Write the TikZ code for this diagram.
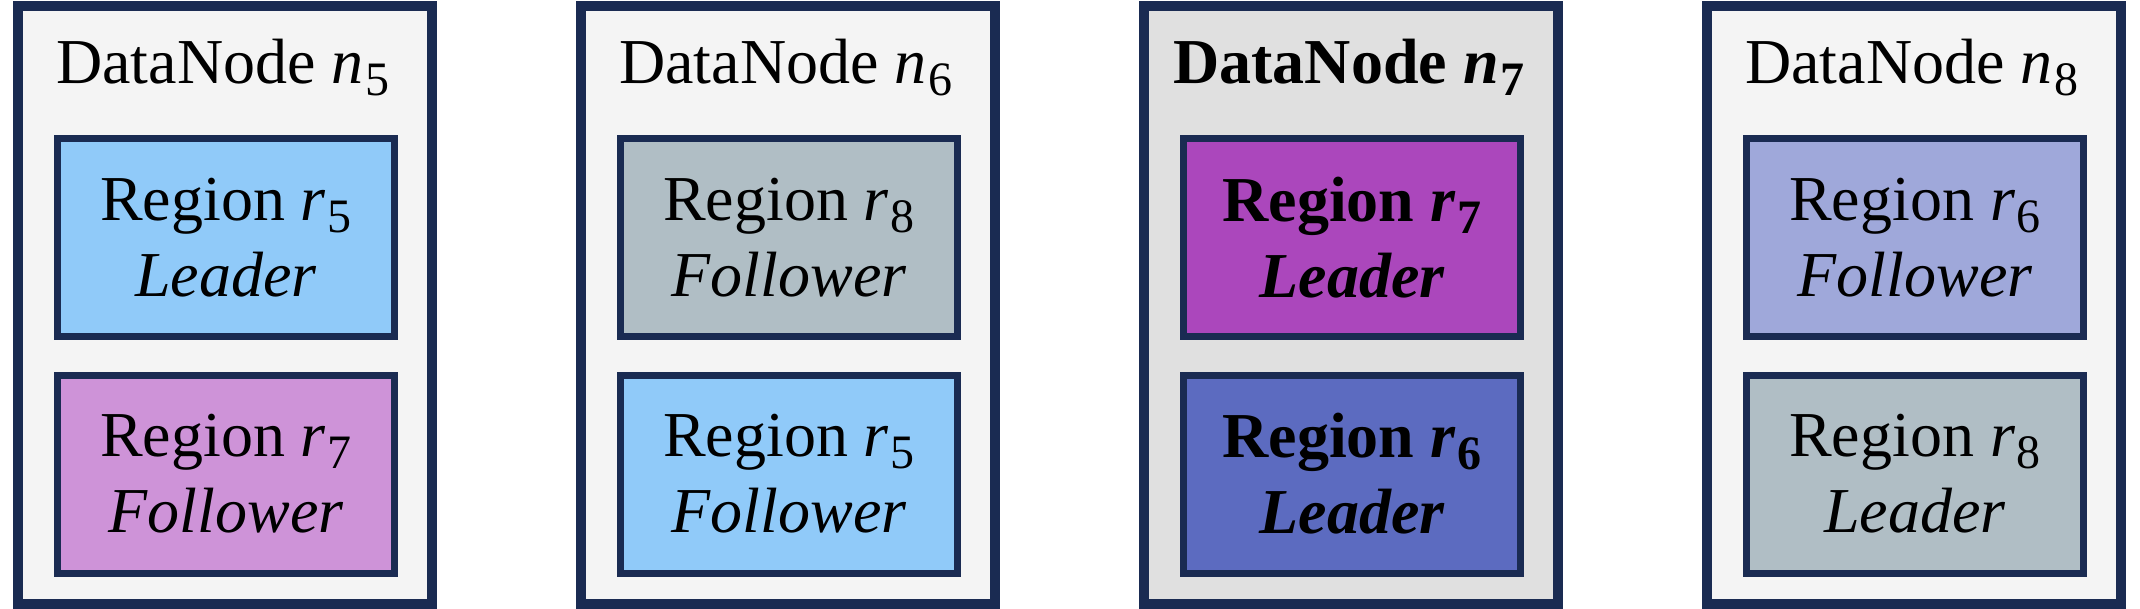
\documentclass[tikz,border=0pt]{standalone}
\usepackage{fontspec}
\setmainfont{Liberation Serif}
\definecolor{navy}{HTML}{1A2B52}
\definecolor{nodebg}{HTML}{F4F4F4}
\definecolor{nodebgsel}{HTML}{E0E0E0}
\definecolor{lblue}{HTML}{90CAF9}
\definecolor{lpurple}{HTML}{CE93D8}
\definecolor{lgrey}{HTML}{B0BEC5}
\definecolor{dpurple}{HTML}{AB47BC}
\definecolor{dindigo}{HTML}{5C6BC0}
\definecolor{lindigo}{HTML}{9FA8DA}
\newcommand\rs[1]{\kern2pt\raisebox{-12pt}{\fontsize{48}{48}\selectfont #1}}
\tikzset{
  dnbox/.style={draw=navy, line width=10pt, fill=nodebg, minimum width=414pt, minimum height=598pt, inner sep=0pt},
  dntitle/.style={anchor=base, inner sep=0pt, font=\fontsize{64}{76}\selectfont},
  regbox/.style={draw=navy, line width=7pt, minimum width=337pt, minimum height=198pt, inner sep=0pt, align=center, font=\fontsize{64}{76}\selectfont},
}
\begin{document}
\begin{tikzpicture}[x=1pt,y=-1pt]
\useasboundingbox (0,0) rectangle (2140,609);
% DataNode n5
\node[dnbox] (n5) at (225,305) {};
\node[dntitle] (t5) at (223,83.5) {DataNode {\itshape n}\rs{5}};
\node[regbox, fill=lblue] (n5a) at (226,237.5) {Region {\itshape r}\rs{5}\\{\itshape Leader}};
\node[regbox, fill=lpurple] (n5b) at (226,474) {Region {\itshape r}\rs{7}\\{\itshape Follower}};
% DataNode n6
\node[dnbox] (n6) at (788,305) {};
\node[dntitle] (t6) at (786,83.5) {DataNode {\itshape n}\rs{6}};
\node[regbox, fill=lgrey] (n6a) at (789,237.5) {Region {\itshape r}\rs{8}\\{\itshape Follower}};
\node[regbox, fill=lblue] (n6b) at (789,474) {Region {\itshape r}\rs{5}\\{\itshape Follower}};
% DataNode n7
\node[dnbox, fill=nodebgsel] (n7) at (1351,305) {};
\node[dntitle] (t7) at (1349,83.5) {\bfseries DataNode {\itshape n}\rs{7}};
\node[regbox, fill=dpurple] (n7a) at (1352,237.5) {\bfseries Region {\itshape r}\rs{7}\\{\bfseries\itshape Leader}};
\node[regbox, fill=dindigo] (n7b) at (1352,474) {\bfseries Region {\itshape r}\rs{6}\\{\bfseries\itshape Leader}};
% DataNode n8
\node[dnbox] (n8) at (1914,305) {};
\node[dntitle] (t8) at (1912,83.5) {DataNode {\itshape n}\rs{8}};
\node[regbox, fill=lindigo] (n8a) at (1915,237.5) {Region {\itshape r}\rs{6}\\{\itshape Follower}};
\node[regbox, fill=lgrey] (n8b) at (1915,474) {Region {\itshape r}\rs{8}\\{\itshape Leader}};
\end{tikzpicture}
\end{document}
